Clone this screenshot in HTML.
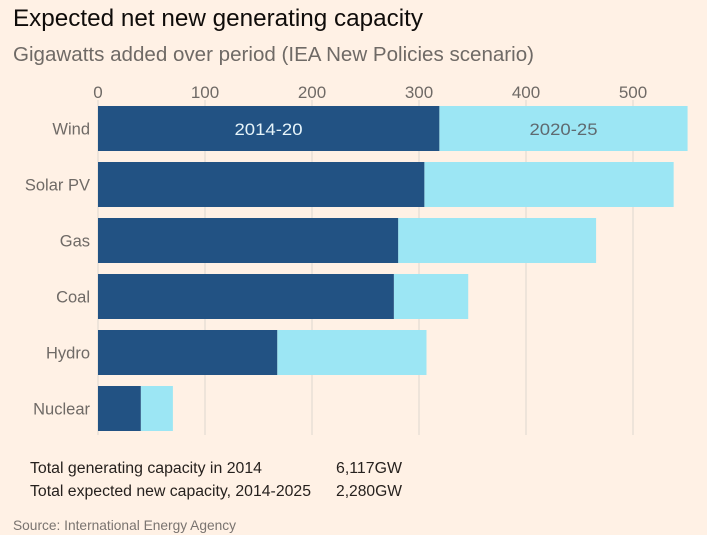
<!DOCTYPE html>
<html lang="en">
<head>
<meta charset="utf-8">
<title>Expected net new generating capacity</title>
<style>
html,body{margin:0;padding:0;background:#fff1e5;}
svg{display:block;font-family:"Liberation Sans",sans-serif;}
</style>
</head>
<body>
<svg id="chart" width="707" height="535" viewBox="0 0 707 535" xmlns="http://www.w3.org/2000/svg">
<rect x="0" y="0" width="707" height="535" fill="#fff1e5"/>
<text x="13" y="26" font-size="24" fill="#0f0c0a" textLength="410" lengthAdjust="spacingAndGlyphs">Expected net new generating capacity</text>
<text x="13" y="61" font-size="20" fill="#6f6a66" textLength="521" lengthAdjust="spacingAndGlyphs">Gigawatts added over period (IEA New Policies scenario)</text>
<g id="grid"></g>
<g id="bars"></g>
<g id="labels"></g>
<text x="268.500" y="135" font-size="17" fill="#e6f4fa" text-anchor="middle" textLength="68" lengthAdjust="spacingAndGlyphs">2014-20</text>
<text x="563.500" y="135" font-size="17" fill="#5f6a70" text-anchor="middle" textLength="68" lengthAdjust="spacingAndGlyphs">2020-25</text>
<text x="30" y="473" font-size="15.500" fill="#26211e" textLength="232" lengthAdjust="spacingAndGlyphs">Total generating capacity in 2014</text>
<text x="336" y="473" font-size="15.500" fill="#26211e" textLength="66" lengthAdjust="spacingAndGlyphs">6,117GW</text>
<text x="30" y="496" font-size="15.500" fill="#26211e" textLength="281" lengthAdjust="spacingAndGlyphs">Total expected new capacity, 2014-2025</text>
<text x="336" y="496" font-size="15.500" fill="#26211e" textLength="66" lengthAdjust="spacingAndGlyphs">2,280GW</text>
<text x="13" y="530" font-size="14" fill="#7a7470" textLength="223" lengthAdjust="spacingAndGlyphs">Source: International Energy Agency</text>
</svg>
<script>
const categories = ['Wind', 'Solar PV', 'Gas', 'Coal', 'Hydro', 'Nuclear'];
const series2014to20 = [319, 305, 280.5, 276.5, 167.5, 40];
const series2020to25 = [232, 233, 185, 69.5, 139.5, 30];
const tickValues = [0, 100, 200, 300, 400, 500];
const tickLabels = ['0', '100', '200', '300', '400', '500'];

const NS = 'http://www.w3.org/2000/svg';
function xScale(v) { return 98 + v * 1.07; }
function yBand(i) { return 106 + i * 56; }
const bandHeight = 45;

function make(parent, tag, attrs) {
  const el = document.createElementNS(NS, tag);
  for (const k in attrs) el.setAttribute(k, attrs[k]);
  parent.appendChild(el);
  return el;
}
const grid = document.getElementById('grid');
const bars = document.getElementById('bars');
const labels = document.getElementById('labels');

tickValues.forEach(function (v, i) {
  const line = make(grid, 'line', {
    x1: xScale(v), x2: xScale(v), y1: 100, y2: 435,
    stroke: '#e9e0d7', 'stroke-width': 1.5
  });
  
  
  const t = make(labels, 'text', {
    x: xScale(v), y: 98, 'font-size': 17, fill: '#6f6a66', 'text-anchor': 'middle'
  });
  t.textContent = tickLabels[i];
  
  
});

categories.forEach(function (c, i) {
  const a = series2014to20[i];
  const b = series2020to25[i];
  const light = make(bars, 'rect', {
    x: xScale(a), y: yBand(i), width: xScale(a + b) - xScale(a), height: bandHeight, fill: '#9ce6f4'
  });
  
  
  const dark = make(bars, 'rect', {
    x: xScale(0), y: yBand(i), width: xScale(a) - xScale(0), height: bandHeight, fill: '#225283'
  });
  
  
  const t = make(labels, 'text', {
    x: 90, y: yBand(i) + bandHeight / 2 + 6, 'font-size': 16.5, fill: '#6f6a66', 'text-anchor': 'end'
  });
  t.textContent = c;
  
  
});
</script>
</body>
</html>
